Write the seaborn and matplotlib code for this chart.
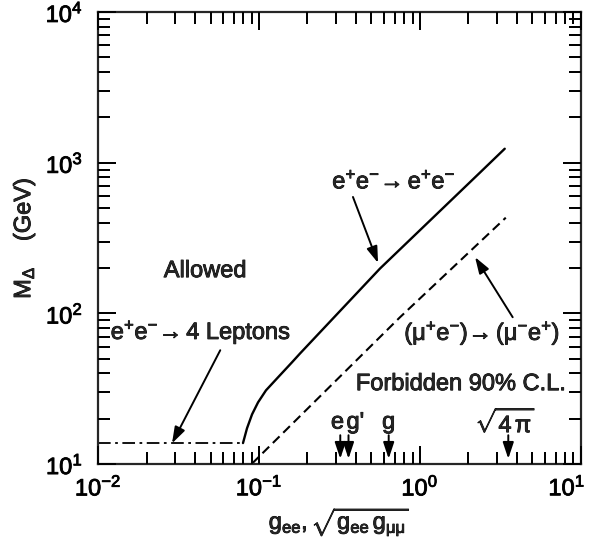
import numpy as np
import pandas as pd
import matplotlib
matplotlib.use('Agg')
import matplotlib.pyplot as plt
import matplotlib.patheffects as pe
from matplotlib.ticker import FixedLocator, NullFormatter
from matplotlib.transforms import ScaledTranslation
import seaborn as sns

# e+e- -> e+e- (Bhabha) limit, solid
bhabha_g = [0.0795, 0.0842, 0.0905, 0.0986, 0.1105, 0.1313, 0.1603, 0.18, 0.565, 2.36, 3.37]
bhabha_m = [13.8, 17.3, 21.4, 25.7, 30.9, 37.7, 47.4, 54.3, 198.6, 859, 1239]

# muonium -> antimuonium limit, dashed
muonium_g = [0.0906, 0.751, 3.42]
muonium_m = [10.1, 94.2, 432]

# e+e- -> 4 leptons limit, dash-dot
fourlep_g = [0.01, 0.0795]
fourlep_m = [13.8, 13.8]

# reference couplings marked on the x axis
coupling_vals = [0.32, 0.36, 0.64, 3.545]
coupling_labels = ['e', "g'", 'g', r'$\sqrt{4\,\pi}$']

x_ticks = [1e-2, 1e-1, 1e0, 1e1]
x_ticklabels = [r'$10^{-2}$', r'$10^{-1}$', r'$10^{0}$', r'$10^{1}$']
y_ticks = [1e1, 1e2, 1e3, 1e4]
y_ticklabels = [r'$10^{1}$', r'$10^{2}$', r'$10^{3}$', r'$10^{4}$']

sns.set_style('ticks')
plt.rcParams['font.family'] = ['Liberation Sans', 'DejaVu Sans']
plt.rcParams['mathtext.fontset'] = 'custom'
plt.rcParams['mathtext.rm'] = 'Liberation Sans'
plt.rcParams['mathtext.it'] = 'Liberation Sans:italic'
plt.rcParams['mathtext.bf'] = 'Liberation Sans:bold'
plt.rcParams['mathtext.sf'] = 'Liberation Sans'
plt.rcParams['mathtext.default'] = 'regular'
plt.rcParams['axes.axisbelow'] = False

fs = 17
heavy = [pe.withStroke(linewidth=0.6, foreground='k')]

fig = plt.figure(figsize=(5.95, 5.48), dpi=100)
ax = fig.add_axes([0.165, 0.153, 0.811, 0.825])

df_b = pd.DataFrame({'g': bhabha_g, 'm': bhabha_m})
df_mu = pd.DataFrame({'g': muonium_g, 'm': muonium_m})
df_4l = pd.DataFrame({'g': fourlep_g, 'm': fourlep_m})

sns.lineplot(data=df_b, x='g', y='m', ax=ax, color='k', lw=1.7, sort=False, estimator=None)
sns.lineplot(data=df_mu, x='g', y='m', ax=ax, color='k', lw=1.5, sort=False, estimator=None,
             linestyle=(0, (4.5, 2.5)))
sns.lineplot(data=df_4l, x='g', y='m', ax=ax, color='k', lw=1.3, sort=False, estimator=None,
             linestyle=(0, (7, 2.5, 1.5, 2.5)))

ax.set_xscale('log')
ax.set_yscale('log')
ax.set_xlim(1e-2, 1e1)
ax.set_ylim(1e1, 1e4)

ax.set_xticks(x_ticks, x_ticklabels)
ax.set_yticks(y_ticks, y_ticklabels)

# minor ticks 2..9 in every decade
x_minor = [m * 10.0 ** k for k in range(-2, 1) for m in range(2, 10)]
y_minor = [m * 10.0 ** k for k in range(1, 4) for m in range(2, 10)]
ax.xaxis.set_minor_locator(FixedLocator(x_minor))
ax.yaxis.set_minor_locator(FixedLocator(y_minor))
ax.xaxis.set_minor_formatter(NullFormatter())
ax.yaxis.set_minor_formatter(NullFormatter())

for s in ax.spines.values():
    s.set_linewidth(1.6)
ax.tick_params(which='major', direction='in', bottom=True, left=True, top=True, right=True,
               width=1.3, length=13, pad=8, labelsize=fs, colors='k')
ax.tick_params(which='minor', direction='in', bottom=True, left=True, top=True, right=True,
               width=1.3, length=8.5, color='k')
ax.tick_params(axis='y', which='major', pad=11)

# inward tick marks drawn as markers on all four sides (backup for the axis ticks)
xt = ax.get_xaxis_transform()
yt = ax.get_yaxis_transform()
for pos, size in [(x_minor, 8.5), (x_ticks, 13)]:
    ax.plot(pos, [0] * len(pos), transform=xt, ls='none', marker=2, ms=size, mew=1.3,
            color='k', clip_on=False)
    ax.plot(pos, [1] * len(pos), transform=xt, ls='none', marker=3, ms=size, mew=1.3,
            color='k', clip_on=False)
for pos, size in [(y_minor, 8.5), (y_ticks, 13)]:
    ax.plot([0] * len(pos), pos, transform=yt, ls='none', marker=1, ms=size, mew=1.3,
            color='k', clip_on=False)
    ax.plot([1] * len(pos), pos, transform=yt, ls='none', marker=0, ms=size, mew=1.3,
            color='k', clip_on=False)

ax.set_xlabel(r'$g_{ee}, \sqrt{g_{ee}\,g_{\mu\mu}}$', fontsize=fs, labelpad=4,
              path_effects=heavy)
ax.set_ylabel(r'$M_{\Delta}$    (GeV)', fontsize=fs, labelpad=6, path_effects=heavy)

# region labels
ax.text(0.222, 0.427, 'Allowed', transform=ax.transAxes, fontsize=fs,
        ha='center', va='center', path_effects=heavy)
ax.text(0.752, 0.177, 'Forbidden 90% C.L.', transform=ax.transAxes, fontsize=fs,
        ha='center', va='center', path_effects=heavy)

arrow = dict(arrowstyle='-|>,head_length=0.9,head_width=0.3', color='k', lw=1.4,
             shrinkA=0, shrinkB=0, mutation_scale=11)

# curve labels with arrows
ax.text(0.613, 0.624, r'$e^{+}e^{-}\!\rightarrow e^{+}e^{-}$', transform=ax.transAxes,
        fontsize=fs, ha='center', va='center', path_effects=heavy)
ax.annotate('', xy=(0.580, 0.445), xytext=(0.528, 0.591), xycoords='axes fraction',
            textcoords='axes fraction', arrowprops=arrow)

ax.text(0.796, 0.29, r'$(\mu^{+}e^{-})\!\rightarrow (\mu^{-}e^{+})$', transform=ax.transAxes,
        fontsize=fs, ha='center', va='center', path_effects=heavy)
ax.annotate('', xy=(0.781, 0.458), xytext=(0.859, 0.325), xycoords='axes fraction',
            textcoords='axes fraction', arrowprops=arrow)

ax.text(0.213, 0.292, r'$e^{+}e^{-}\!\rightarrow$4 Leptons', transform=ax.transAxes,
        fontsize=fs, ha='center', va='center', path_effects=heavy)
ax.annotate('', xy=(0.153, 0.046), xytext=(0.253, 0.252), xycoords='axes fraction',
            textcoords='axes fraction', arrowprops=arrow)

# coupling markers on x axis
label_dx = [-2, 5, 0, -2]
for val, lab, dx in zip(coupling_vals, coupling_labels, label_dx):
    ax.annotate('', xy=(val, 0.012), xytext=(val, 0.064),
                xycoords=('data', 'axes fraction'), textcoords=('data', 'axes fraction'),
                arrowprops=arrow)
    ax.annotate(lab, xy=(val, 0.092), xycoords=('data', 'axes fraction'),
                xytext=(dx, 0), textcoords='offset points',
                ha='center', va='center', fontsize=fs, path_effects=heavy)

fig.canvas.draw()
for t in ax.get_xticklabels() + ax.get_yticklabels():
    t.set_path_effects(heavy)
last = ax.get_xticklabels()[-1]
last.set_transform(last.get_transform() + ScaledTranslation(-10 / 72, 0, fig.dpi_scale_trans))

fig.savefig('out.png', dpi=100)
